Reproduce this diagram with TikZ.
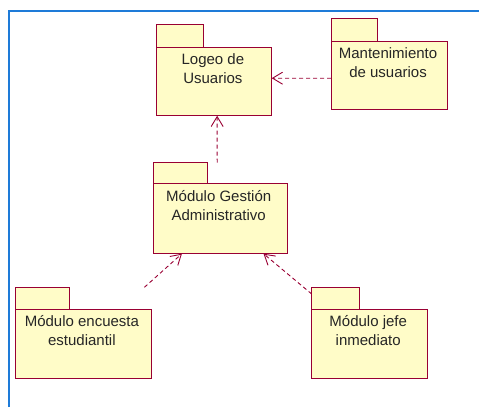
\documentclass[tikz,border=0pt]{standalone}
\usepackage{fontspec}
\setmainfont{Liberation Sans}
\usetikzlibrary{arrows.meta}
\definecolor{pkgline}{RGB}{153,0,51}
\definecolor{pkgfill}{RGB}{255,252,200}
\definecolor{frameblue}{RGB}{30,123,216}
\tikzset{
  pkgbox/.style={draw=none, inner sep=0pt, anchor=north west},
  pkgshape/.style={draw=pkgline, fill=pkgfill, line width=1pt},
  pkgtext/.style={align=center, inner sep=0pt, anchor=base, font=\fontsize{15}{19}\selectfont, text=black!85},
  dep/.style={draw=pkgline, line width=0.9pt, dash pattern=on 4pt off 3pt, -{Straight Barb[length=10pt,width=12pt]}},
}
\begin{document}
\begin{tikzpicture}[x=1pt,y=-1pt]
\useasboundingbox (0,0) rectangle (479,407);
\draw[frameblue, line width=2pt] (9.3,407) -- (9.3,10.5) -- (479,10.5);
% package bounding nodes (tab top to body bottom)
\node[pkgbox, minimum width=115.3pt, minimum height=90.6pt] (logeo) at (156,24.7) {};
\node[pkgbox, minimum width=115.7pt, minimum height=90.3pt] (mant) at (331,18.7) {};
\node[pkgbox, minimum width=134pt, minimum height=90.6pt] (gest) at (153,162.7) {};
\node[pkgbox, minimum width=135pt, minimum height=90.4pt] (enc) at (15.7,287.3) {};
\node[pkgbox, minimum width=115.6pt, minimum height=90.4pt] (jefe) at (311.7,287.3) {};
% shapes
\draw[pkgshape] (logeo.north west) rectangle ([xshift=47pt,yshift=-22.3pt]logeo.north west);
\draw[pkgshape] ([yshift=-22.3pt]logeo.north west) rectangle (logeo.south east);
\draw[pkgshape] (mant.north west) rectangle ([xshift=46.3pt,yshift=-22.3pt]mant.north west);
\draw[pkgshape] ([yshift=-22.3pt]mant.north west) rectangle (mant.south east);
\draw[pkgshape] (gest.north west) rectangle ([xshift=54pt,yshift=-20.6pt]gest.north west);
\draw[pkgshape] ([yshift=-20.6pt]gest.north west) rectangle (gest.south east);
\draw[pkgshape] (enc.north west) rectangle ([xshift=53.3pt,yshift=-22pt]enc.north west);
\draw[pkgshape] ([yshift=-22pt]enc.north west) rectangle (enc.south east);
\draw[pkgshape] (jefe.north west) rectangle ([xshift=47.3pt,yshift=-22pt]jefe.north west);
\draw[pkgshape] ([yshift=-22pt]jefe.north west) rectangle (jefe.south east);
% texts (base = baseline of last line)
\node[pkgtext] (logeoT) at ([xshift=-1pt,yshift=-58.8pt]logeo.north) {Logeo de\\Usuarios};
\node[pkgtext] (mantT) at ([xshift=-1pt,yshift=-58.5pt]mant.north) {Mantenimiento\\de usuarios};
\node[pkgtext] (gestT) at ([xshift=-1.5pt,yshift=-57.3pt]gest.north) {Módulo Gestión\\Administrativo};
\node[pkgtext] (encT) at ([xshift=-1.5pt,yshift=-58.5pt]enc.north) {Módulo encuesta\\estudiantil};
\node[pkgtext] (jefeT) at ([xshift=-1.5pt,yshift=-58.5pt]jefe.north) {Módulo jefe\\inmediato};
% dependencies
\draw[dep] ([yshift=-14.2pt]mant.west) -- ([yshift=-8pt]logeo.east);
\draw[dep] ([xshift=-3pt]gest.north) -- ([xshift=3.3pt]logeo.south);
\draw[dep] ([xshift=-6.7pt]enc.north east) -- ([xshift=-38.3pt]gest.south);
\draw[dep] ([yshift=-6.7pt]jefe.north west) -- ([xshift=43.3pt]gest.south);
\end{tikzpicture}
\end{document}
